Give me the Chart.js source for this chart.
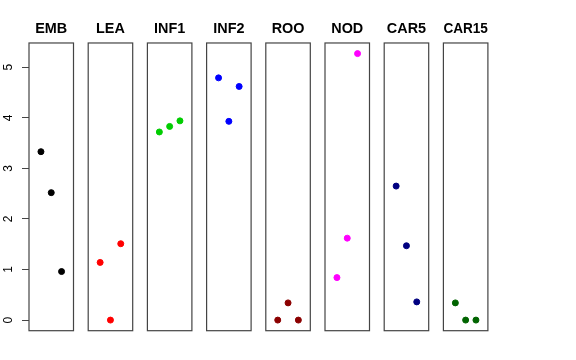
<!DOCTYPE html>
<html>
<head>
<meta charset="utf-8">
<script src="https://cdn.jsdelivr.net/npm/chart.js@4/dist/chart.umd.min.js"></script>
<style>
  html,body{margin:0;padding:0;background:#fff;}
  #wrap{position:relative;width:576px;height:360px;overflow:hidden;background:#fff;}
  #wrap canvas{position:absolute;top:0;}
</style>
</head>
<body>
<div id="wrap"></div>
<script>
// ---- data ----
const categories = ['EMB','LEA','INF1','INF2','ROO','NOD','CAR5','CAR15'];
const positions = [1, 2, 3];
const EMB   = [3.33, 2.52, 0.96];
const LEA   = [1.14, 0.00, 1.51];
const INF1  = [3.72, 3.83, 3.94];
const INF2  = [4.79, 3.93, 4.62];
const ROO   = [0.00, 0.34, 0.00];
const NOD   = [0.84, 1.62, 5.27];
const CAR5  = [2.65, 1.47, 0.36];
const CAR15 = [0.34, 0.00, 0.00];
const seriesValues = [EMB, LEA, INF1, INF2, ROO, NOD, CAR5, CAR15];
const seriesColors = ['#000000','#FF0000','#00CD00','#0000FF','#8B0000','#FF00FF','#000080','#006400'];
const yTicks = [0, 1, 2, 3, 4, 5];

// ---- layout ----
const FONT = "'Liberation Sans', Arial, sans-serif";
const panelWidth = 44.5;
const firstLeft = 29;
const pitch = 59.2;
const axisWidth = 29;
const canvasH = 360;
const sideRoom = 7;

const boxPlugin = {
  id: 'box',
  afterDraw(chart) {
    const a = chart.chartArea, ctx = chart.ctx;
    ctx.save();
    ctx.strokeStyle = '#444';
    ctx.lineWidth = 1.2;
    ctx.strokeRect(a.left, a.top, a.right - a.left, a.bottom - a.top);
    ctx.restore();
  }
};

const yLabelPlugin = {
  id: 'ylabels',
  afterDraw(chart) {
    if (!chart.options.scales.y.display) return;
    const s = chart.scales.y, ctx = chart.ctx;
    ctx.save();
    ctx.fillStyle = '#000';
    ctx.font = '12px ' + FONT;
    ctx.textAlign = 'center';
    ctx.textBaseline = 'middle';
    yTicks.forEach(v => {
      const y = s.getPixelForValue(v);
      ctx.save();
      ctx.translate(9, y);
      ctx.rotate(-Math.PI / 2);
      ctx.fillText(String(v), 0, 0);
      ctx.restore();
    });
    ctx.restore();
  }
};

const wrap = document.getElementById('wrap');
categories.forEach((cat, i) => {
  const panelLeft = firstLeft + i * pitch;
  const first = i === 0;
  const cLeft = first ? 0 : Math.floor(panelLeft - sideRoom);
  const cWidth = first ? Math.ceil(axisWidth + panelWidth + 2) : Math.ceil(panelWidth + 2 * sideRoom + 1);
  const padL = first ? 0 : panelLeft - cLeft;
  const padR = cLeft + cWidth - (first ? axisWidth : panelLeft) - panelWidth;
  const cv = document.createElement('canvas');
  cv.width = cWidth; cv.height = canvasH;
  cv.style.left = cLeft + 'px';
  cv.style.width = cWidth + 'px';
  cv.style.height = canvasH + 'px';
  wrap.appendChild(cv);
  const vals = seriesValues[i];
  const yScale = {
    type: 'linear',
    min: -0.21, max: 5.48,
    display: first,
    afterBuildTicks: (s) => { s.ticks = yTicks.map(v => ({ value: v })); },
    border: { display: false },
    grid: { drawOnChartArea: false, drawTicks: true, tickLength: 7, color: '#444', lineWidth: 1 },
    ticks: { display: false }
  };
  if (first) yScale.afterFit = (s) => { s.width = axisWidth; };
  new Chart(cv, {
    type: 'scatter',
    data: {
      datasets: [{
        data: positions.map((x, j) => ({ x: x, y: vals[j] })),
        backgroundColor: seriesColors[i],
        borderColor: seriesColors[i],
        pointRadius: 3,
        borderWidth: 1
      }]
    },
    options: {
      responsive: false,
      animation: false,
      events: [],
      devicePixelRatio: 1,
      layout: { autoPadding: false, padding: { left: padL, right: padR, top: 0, bottom: 29.3 } },
      plugins: {
        legend: { display: false },
        tooltip: { enabled: false },
        title: {
          display: true,
          text: cat,
          fullSize: false,
          color: '#000',
          font: { family: FONT, size: 14.4, weight: 'bold', lineHeight: 1.2 },
          padding: { top: 20.7, bottom: 5 }
        }
      },
      scales: {
        x: { type: 'linear', min: -0.16, max: 4.16, display: false, ticks: { display: false } },
        y: yScale
      }
    },
    plugins: [boxPlugin, yLabelPlugin]
  });
});
</script>
</body>
</html>
